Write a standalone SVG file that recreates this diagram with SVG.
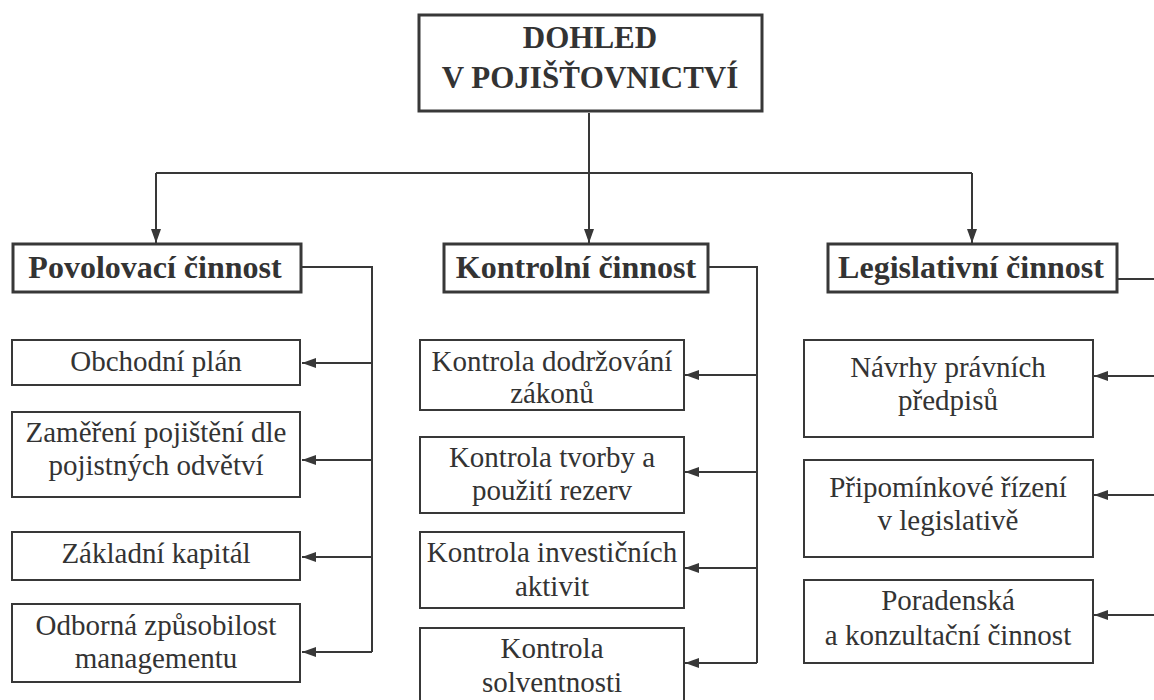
<svg xmlns="http://www.w3.org/2000/svg" width="1154" height="700" viewBox="0 0 1154 700">
<style>
text{font-family:"Liberation Serif","Times New Roman",serif !important;fill:#333;text-anchor:middle}
.b{font-weight:bold}
.box{fill:#fff;stroke:#383838;stroke-width:2}
.hbox{fill:#fff;stroke:#383838;stroke-width:3}
.c{fill:none;stroke:#383838;stroke-width:2}
</style>
<defs>
<marker id="ah" viewBox="0 0 14 10" refX="14" refY="5" markerWidth="14" markerHeight="10" markerUnits="userSpaceOnUse" orient="auto">
<path d="M0,0 L14,5 L0,10 Z" fill="#383838"/>
</marker>
</defs>
<rect width="1154" height="700" fill="#fff"/>
<g id="connectors">
<path class="c" d="M589,113 V173"/>
<path class="c" d="M156,173 H972"/>
<path class="c" d="M156,173 V243" marker-end="url(#ah)"/>
<path class="c" d="M589,173 V243" marker-end="url(#ah)"/>
<path class="c" d="M972,173 V243" marker-end="url(#ah)"/>
<path class="c" d="M302,267 H372 V652"/>
<path class="c" d="M372,363 H302" marker-end="url(#ah)"/>
<path class="c" d="M372,460 H302" marker-end="url(#ah)"/>
<path class="c" d="M372,557 H302" marker-end="url(#ah)"/>
<path class="c" d="M372,652 H302" marker-end="url(#ah)"/>
<path class="c" d="M709,267 H757 V663"/>
<path class="c" d="M757,375 H685" marker-end="url(#ah)"/>
<path class="c" d="M757,472 H685" marker-end="url(#ah)"/>
<path class="c" d="M757,568 H685" marker-end="url(#ah)"/>
<path class="c" d="M757,663 H685" marker-end="url(#ah)"/>
<path class="c" d="M1118,279 H1156"/>
<path class="c" d="M1156,376 H1094" marker-end="url(#ah)"/>
<path class="c" d="M1156,495 H1094" marker-end="url(#ah)"/>
<path class="c" d="M1156,615 H1094" marker-end="url(#ah)"/>
</g>
<g id="root">
<rect class="hbox" x="419" y="15" width="343" height="96" stroke-width="4"/>
<text class="b" x="590" y="48" style="font-family:'Liberation Serif',serif;font-size:31px">DOHLED</text>
<text class="b" x="590" y="88" style="font-family:'Liberation Serif',serif;font-size:31px">V POJIŠŤOVNICTVÍ</text>
</g>
<g id="povolovaci">
<rect class="hbox" x="13" y="244" width="288" height="48"/>
<text class="b" x="155" y="278" style="font-family:'Liberation Serif',serif;font-size:32px">Povolovací činnost</text>
</g>
<g id="kontrolni">
<rect class="hbox" x="444" y="244" width="264" height="48"/>
<text class="b" x="576" y="278" style="font-family:'Liberation Serif',serif;font-size:32px">Kontrolní činnost</text>
</g>
<g id="legislativni">
<rect class="hbox" x="828" y="244" width="289" height="48"/>
<text class="b" x="971" y="278" style="font-family:'Liberation Serif',serif;font-size:32px">Legislativní činnost</text>
</g>
<g id="obchodni">
<rect class="box" x="12" y="340" width="288" height="45"/>
<text x="156" y="371" style="font-family:'Liberation Serif',serif;font-size:29px">Obchodní plán</text>
</g>
<g id="zamereni">
<rect class="box" x="12" y="412" width="288" height="85"/>
<text x="156" y="442" style="font-family:'Liberation Serif',serif;font-size:29px">Zaměření pojištění dle</text>
<text x="156" y="475" style="font-family:'Liberation Serif',serif;font-size:29px">pojistných odvětví</text>
</g>
<g id="zakladni">
<rect class="box" x="12" y="532" width="288" height="48"/>
<text x="156" y="563" style="font-family:'Liberation Serif',serif;font-size:29px">Základní kapitál</text>
</g>
<g id="odborna">
<rect class="box" x="12" y="604" width="288" height="78"/>
<text x="156" y="635" style="font-family:'Liberation Serif',serif;font-size:29px">Odborná způsobilost</text>
<text x="156" y="668" style="font-family:'Liberation Serif',serif;font-size:29px">managementu</text>
</g>
<g id="dodrzovani">
<rect class="box" x="420" y="340" width="264" height="70"/>
<text x="552" y="371" style="font-family:'Liberation Serif',serif;font-size:29px">Kontrola dodržování</text>
<text x="552" y="403" style="font-family:'Liberation Serif',serif;font-size:29px">zákonů</text>
</g>
<g id="tvorby">
<rect class="box" x="420" y="437" width="264" height="76"/>
<text x="552" y="467" style="font-family:'Liberation Serif',serif;font-size:29px">Kontrola tvorby a</text>
<text x="552" y="500" style="font-family:'Liberation Serif',serif;font-size:29px">použití rezerv</text>
</g>
<g id="investicnich">
<rect class="box" x="420" y="532" width="264" height="76"/>
<text x="552" y="562" style="font-family:'Liberation Serif',serif;font-size:29px">Kontrola investičních</text>
<text x="552" y="596" style="font-family:'Liberation Serif',serif;font-size:29px">aktivit</text>
</g>
<g id="solventnosti">
<rect class="box" x="420" y="628" width="264" height="80"/>
<text x="552" y="658" style="font-family:'Liberation Serif',serif;font-size:29px">Kontrola</text>
<text x="552" y="692" style="font-family:'Liberation Serif',serif;font-size:29px">solventnosti</text>
</g>
<g id="navrhy">
<rect class="box" x="804" y="340" width="289" height="97"/>
<text x="948" y="377" style="font-family:'Liberation Serif',serif;font-size:29px">Návrhy právních</text>
<text x="948" y="410" style="font-family:'Liberation Serif',serif;font-size:29px">předpisů</text>
</g>
<g id="pripominkove">
<rect class="box" x="804" y="460" width="289" height="97"/>
<text x="948" y="497" style="font-family:'Liberation Serif',serif;font-size:29px">Připomínkové řízení</text>
<text x="948" y="530" style="font-family:'Liberation Serif',serif;font-size:29px">v legislativě</text>
</g>
<g id="poradenska">
<rect class="box" x="804" y="580" width="289" height="83"/>
<text x="948" y="610" style="font-family:'Liberation Serif',serif;font-size:29px">Poradenská</text>
<text x="948" y="645" style="font-family:'Liberation Serif',serif;font-size:29px">a konzultační činnost</text>
</g>
</svg>
